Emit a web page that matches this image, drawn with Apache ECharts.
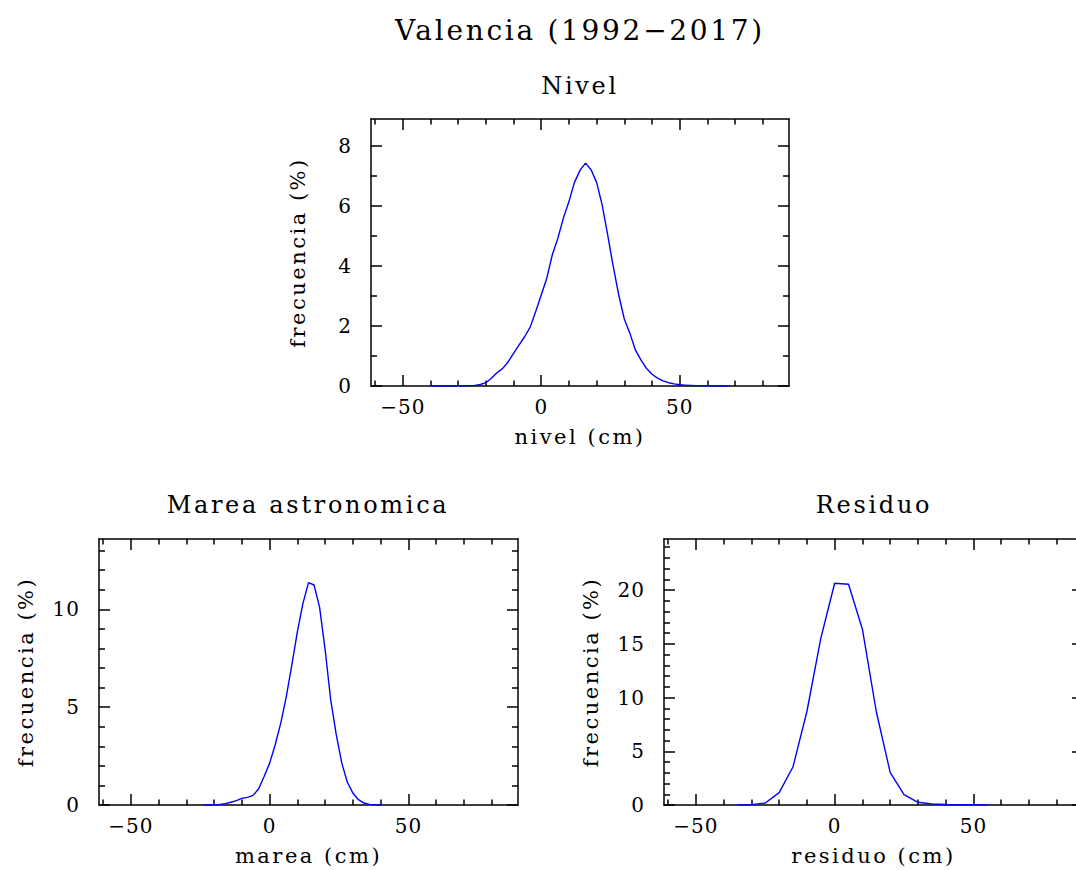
<!DOCTYPE html>
<html><head><meta charset="utf-8">
<script src="https://cdn.jsdelivr.net/npm/echarts@6/dist/echarts.min.js"></script>
<style>
html,body{margin:0;padding:0;background:#fff;}
#c{width:1076px;height:870px;}
#c text[style*="28px"]{letter-spacing:2.7px;}
#c text[style*="24px"]{letter-spacing:2.7px;}
#c text[style*="21px"]{letter-spacing:2.5px;}
#c text[style*="20px"]{letter-spacing:1px;}
</style></head><body><div id="c"></div>
<script>
// ---- data ----
const mainTitle = 'Valencia (1992\u22122017)';
const panelTitles = ['Nivel', 'Marea astronomica', 'Residuo'];
const xNames = ['nivel (cm)', 'marea (cm)', 'residuo (cm)'];
const yName = 'frecuencia (%)';

const nivelX = [-40,-38,-36,-34,-32,-30,-28,-26,-24,-22,-20,-18,-16,-14,-12,-10,-8,-6,-4,-2,0,2,4,6,8,10,12,14,16,18,20,22,24,26,28,30,32,34,36,38,40,42,44,46,48,50,52,54,56,58,60,62,64,66,68];
const nivelY = [0,0,0,0,0,0.01,0.01,0.01,0.02,0.05,0.11,0.26,0.44,0.58,0.80,1.09,1.37,1.64,1.96,2.48,3.03,3.59,4.37,4.92,5.59,6.14,6.78,7.18,7.42,7.20,6.78,6.03,5.03,3.98,3.03,2.23,1.76,1.20,0.87,0.59,0.39,0.26,0.17,0.11,0.07,0.04,0.03,0.02,0.01,0.01,0.01,0,0,0,0];

const mareaX = [-24,-22,-20,-18,-16,-14,-12,-10,-8,-6,-4,-2,0,2,4,6,8,10,12,14,16,18,20,22,24,26,28,30,32,34,36,38,40];
const mareaY = [0,0,0.02,0.03,0.07,0.14,0.22,0.34,0.39,0.49,0.82,1.46,2.14,3.08,4.18,5.54,7.16,8.86,10.3,11.36,11.24,10.1,7.93,5.37,3.59,2.14,1.16,0.61,0.27,0.10,0.03,0.02,0];

const residuoX = [-35,-30,-25,-20,-15,-10,-5,0,5,10,15,20,25,30,35,40,45,50,55];
const residuoY = [0,0.03,0.19,1.15,3.56,8.7,15.5,20.63,20.54,16.36,8.7,3.04,0.96,0.25,0.09,0.05,0.03,0.02,0.01];

const xMajorTicks = [-50,0,50];
const xMinorTicks = [-60,-40,-30,-20,-10,10,20,30,40,60,70,80];
const nivelYMajor = [0,2,4,6,8];
const nivelYMinor = [1,3,5,7];
const mareaYMajor = [0,5,10];
const mareaYMinor = [1,2,3,4,6,7,8,9,11,12,13];
const residuoYMajor = [0,5,10,15,20];
const residuoYMinor = [1,2,3,4,6,7,8,9,11,12,13,14,16,17,18,19,21,22,23,24];

// ---- layout ----
const FONT = 'DejaVu Serif';
const X_MIN = -61.5, X_MAX = 89.5;
const panels = [
  {grid:{left:371, top:119, width:418, height:267}, yMax:8.89, yMajor:nivelYMajor, yMinor:nivelYMinor, xs:nivelX, ys:nivelY, tx:580, ty:74},
  {grid:{left:99, top:539, width:419, height:266}, yMax:13.59, yMajor:mareaYMajor, yMinor:mareaYMinor, xs:mareaX, ys:mareaY, tx:308, ty:493},
  {grid:{left:664, top:539, width:419, height:266}, yMax:24.75, yMajor:residuoYMajor, yMinor:residuoYMinor, xs:residuoX, ys:residuoY, tx:874, ty:493}
];

const line = {color:'#000', width:1.5};
const fmt = v => String(v).replace('-', '\u2212');
const grids = [], xAxes = [], yAxes = [], series = [];
const titles = [{text: mainTitle, left: 580, top: 16, textAlign:'center', padding:0,
  textStyle:{fontFamily:FONT, fontSize:28, fontWeight:'normal', color:'#000'}}];

panels.forEach((p, g) => {
  grids.push(Object.assign({outerBoundsMode:'none', containLabel:false, show:false}, p.grid));
  titles.push({text: panelTitles[g], left: p.tx, top: p.ty, textAlign:'center', padding:0,
    textStyle:{fontFamily:FONT, fontSize:24, fontWeight:'normal', color:'#000'}});
  const xbase = {gridIndex:g, type:'value', min:X_MIN, max:X_MAX, splitLine:{show:false}};
  const ybase = {gridIndex:g, type:'value', min:0, max:p.yMax, splitLine:{show:false}};
  // x axes: bottom major (labelled), bottom minor, top major, top minor
  xAxes.push(Object.assign({}, xbase, {position:'bottom',
    axisLine:{show:true, onZero:false, lineStyle:line},
    axisTick:{show:true, inside:true, length:11, customValues:xMajorTicks, lineStyle:line},
    axisLabel:{show:true, customValues:xMajorTicks, margin:11, formatter:fmt, fontFamily:FONT, fontSize:20, color:'#000'},
    name: xNames[g], nameLocation:'middle', nameGap:40,
    nameTextStyle:{fontFamily:FONT, fontSize:21, color:'#000'}}));
  xAxes.push(Object.assign({}, xbase, {position:'bottom',
    axisLine:{show:false, onZero:false},
    axisTick:{show:true, inside:true, length:5.5, customValues:xMinorTicks, lineStyle:line},
    axisLabel:{show:false}}));
  xAxes.push(Object.assign({}, xbase, {position:'top',
    axisLine:{show:true, onZero:false, lineStyle:line},
    axisTick:{show:true, inside:true, length:11, customValues:xMajorTicks, lineStyle:line},
    axisLabel:{show:false}}));
  xAxes.push(Object.assign({}, xbase, {position:'top',
    axisLine:{show:false, onZero:false},
    axisTick:{show:true, inside:true, length:5.5, customValues:xMinorTicks, lineStyle:line},
    axisLabel:{show:false}}));
  // y axes: left major (labelled), left minor, right major, right minor
  yAxes.push(Object.assign({}, ybase, {position:'left',
    axisLine:{show:true, onZero:false, lineStyle:line},
    axisTick:{show:true, inside:true, length:11, customValues:p.yMajor, lineStyle:line},
    axisLabel:{show:true, customValues:p.yMajor, margin:19, formatter:fmt, fontFamily:FONT, fontSize:20, color:'#000'},
    name: yName, nameLocation:'middle', nameGap:63, nameRotate:90,
    nameTextStyle:{fontFamily:FONT, fontSize:21, color:'#000'}}));
  yAxes.push(Object.assign({}, ybase, {position:'left',
    axisLine:{show:false, onZero:false},
    axisTick:{show:true, inside:true, length:6, customValues:p.yMinor, lineStyle:line},
    axisLabel:{show:false}}));
  yAxes.push(Object.assign({}, ybase, {position:'right',
    axisLine:{show:true, onZero:false, lineStyle:line},
    axisTick:{show:true, inside:true, length:11, customValues:p.yMajor, lineStyle:line},
    axisLabel:{show:false}}));
  yAxes.push(Object.assign({}, ybase, {position:'right',
    axisLine:{show:false, onZero:false},
    axisTick:{show:true, inside:true, length:6, customValues:p.yMinor, lineStyle:line},
    axisLabel:{show:false}}));
  series.push({type:'line', xAxisIndex:4*g, yAxisIndex:4*g,
    data: p.xs.map((x, i) => [x, p.ys[i]]),
    showSymbol:false, symbol:'none', smooth:false, clip:true,
    lineStyle:{color:'#0000ff', width:1.4}, itemStyle:{color:'#0000ff'}});
});

const chart = echarts.init(document.getElementById('c'), null, {renderer:'svg'});
chart.setOption({
  animation:false,
  backgroundColor:'#fff',
  title: titles,
  grid: grids,
  xAxis: xAxes,
  yAxis: yAxes,
  series: series
});
</script>
</body></html>
